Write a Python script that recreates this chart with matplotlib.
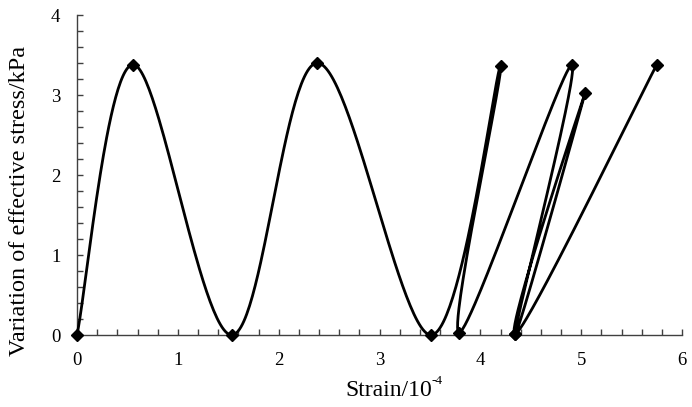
import numpy as np
import matplotlib
matplotlib.use("Agg")
import matplotlib.pyplot as plt
from matplotlib.ticker import MultipleLocator

strain = [0.0, 0.557, 1.535, 2.384, 3.51, 4.20, 3.79, 4.907, 4.345, 5.04, 4.345, 5.75]
stress = [0.0, 3.38, 0.0, 3.40, 0.0, 3.36, 0.03, 3.375, 0.01, 3.03, 0.01, 3.38]

def smooth(xs, ys, n=60):
    P = np.column_stack([xs, ys])
    m = len(P)
    out = [P[0]]
    t = np.linspace(0, 1, n)[1:, None]
    for i in range(m - 1):
        p0 = P[i - 1] if i > 0 else P[i]
        p1, p2 = P[i], P[i + 1]
        p3 = P[i + 2] if i + 2 < m else P[i + 1]
        c1 = p1 + (p2 - p0) / 6
        c2 = p2 - (p3 - p1) / 6
        seg = ((1 - t) ** 3) * p1 + 3 * ((1 - t) ** 2) * t * c1 + 3 * (1 - t) * t ** 2 * c2 + t ** 3 * p2
        out.extend(seg)
    out = np.array(out)
    return out[:, 0], out[:, 1]

plt.rcParams['font.family'] = ['Liberation Serif', 'DejaVu Serif']
W, H = 692, 407
fig = plt.figure(figsize=(W/100, H/100), dpi=100)
ax = fig.add_axes([77/W, 1-335/H, 605/W, 320/H])

sx, sy = smooth(strain, stress)
ax.plot(sx, sy, color='black', lw=2, zorder=3, clip_on=False)
ax.plot(strain, stress, linestyle='none', marker='D', ms=6.5, color='black', zorder=4, clip_on=False)

ax.set_xlim(0, 6)
ax.set_ylim(0, 4)
ax.xaxis.set_major_locator(MultipleLocator(1))
ax.xaxis.set_minor_locator(MultipleLocator(0.2))
ax.yaxis.set_major_locator(MultipleLocator(1))
ax.yaxis.set_minor_locator(MultipleLocator(0.2))
for s in ['top', 'right']:
    ax.spines[s].set_visible(False)
for s in ['left', 'bottom']:
    ax.spines[s].set_color('#404040')
    ax.spines[s].set_linewidth(1)
ax.tick_params(which='both', direction='in', length=4, width=1, color='#404040', labelsize=13.5, pad=12)

# axis titles
fig.text(432/W, 1-396/H, 'Strain/10', fontsize=17, ha='right', va='baseline')
fig.text(432/W, 1-384/H, '-4', fontsize=9.5, ha='left', va='baseline')
fig.text(20/W, 1-201/H, 'Variation of effective stress/kPa', fontsize=17.5, rotation=90,
         ha='center', va='center')
fig.savefig('out.png', dpi=100)
